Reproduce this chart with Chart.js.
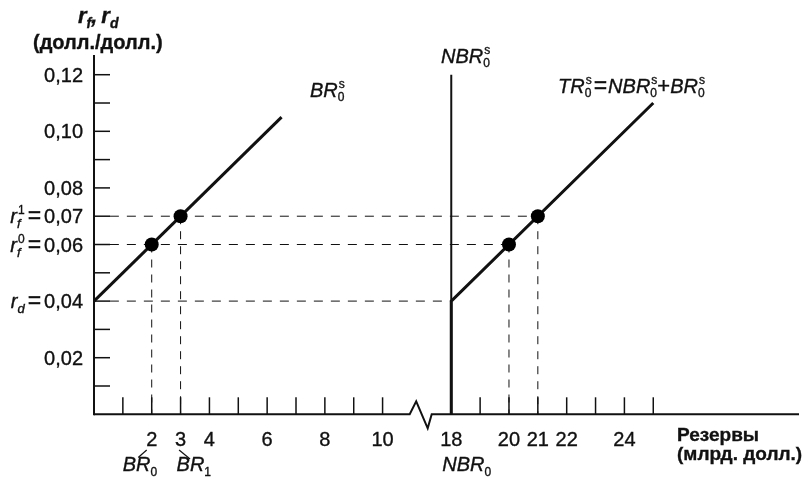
<!DOCTYPE html>
<html>
<head>
<meta charset="utf-8">
<script src="https://cdn.jsdelivr.net/npm/chart.js@4/dist/chart.umd.min.js"></script>
<style>
  html, body { margin: 0; padding: 0; background: #fff; }
  #wrap { width: 806px; height: 485px; }
</style>
</head>
<body>
<div id="wrap"><canvas id="c" width="806" height="485"></canvas></div>
<script>
// ---- data ----
const X_TICKS_LEFT = [1, 2, 3, 4, 5, 6, 7, 8, 9, 10];
const X_TICKS_RIGHT = [18, 19, 20, 21, 22, 23, 24, 25];
const X_LABELS = [2, 3, 4, 6, 8, 10, 18, 20, 21, 22, 24];
const Y_TICKS = [0.01, 0.02, 0.03, 0.04, 0.05, 0.06, 0.07, 0.08, 0.09, 0.10, 0.11, 0.12];
const Y_LABELS = [0.12, 0.10, 0.08, 0.07, 0.06, 0.04, 0.02];

// borrowed-reserves supply BR0s
const BR_SUPPLY_X = [0, 6.5];
const BR_SUPPLY_Y = [0.04, 0.105];
// non-borrowed reserves NBR0s (vertical)
const NBR_SUPPLY_X = [18, 18];
const NBR_SUPPLY_Y = [0, 0.12];
// total reserves supply TR0s = NBR0s + BR0s
const TR_SUPPLY_X = [18, 18, 25];
const TR_SUPPLY_Y = [0, 0.04, 0.11];
// equilibrium points
const EQ_RESERVES = [2, 3, 20, 21];
const EQ_RATES = [0.06, 0.07, 0.06, 0.07];
// horizontal guide levels and where they stop
const GUIDE_RATES = [0.07, 0.06, 0.04];
const GUIDE_RATE_ENDS = [21, 20, 18];

// ---- broken reserves axis: values from 18 on are shifted left ----
const BREAK_FROM = 18;
const BREAK_SHIFT = 5.62;
const brk = v => (v >= BREAK_FROM ? v - BREAK_SHIFT : v);
const BREAK_AT = 10.94;       // where the zig-zag starts on the axis
const GUIDE_START = 0.55;     // horizontal guides start just past the tick marks

const FONT = '"Liberation Sans", Arial, sans-serif';
const NUM = '20px ' + FONT;
const ITAL = 'italic 20px ' + FONT;
const SMALL = '12px ' + FONT;
const SMALL_IT = 'italic 13px ' + FONT;
const EQ = '23px ' + FONT;
const BOLD_T = 'bold 20px ' + FONT;
const BOLD_R = 'bold 19px ' + FONT;
const BOLD_IT = 'italic bold 22px ' + FONT;
const BOLD_IT_SM = 'italic bold 14px ' + FONT;
const INK = '#111';

const fmt = v => v.toFixed(2).replace('.', ',');
const pts = (xs, ys) => xs.map((x, i) => ({ x: brk(x), y: ys[i] }));

function line(data, width, dash) {
  return {
    data, showLine: true, borderColor: INK, borderWidth: width,
    borderDash: dash || [], pointRadius: 0, fill: false, tension: 0,
    borderJoinStyle: 'miter', borderCapStyle: 'butt'
  };
}

const datasets = [];
// equilibrium dots (first = drawn on top)
datasets.push({
  data: pts(EQ_RESERVES, EQ_RATES), showLine: false,
  pointRadius: 7, pointBackgroundColor: '#000', pointBorderWidth: 0
});
datasets.push(line(pts(BR_SUPPLY_X, BR_SUPPLY_Y), 3));
datasets.push(line(pts(TR_SUPPLY_X, TR_SUPPLY_Y), 3));
datasets.push(line(pts(NBR_SUPPLY_X, NBR_SUPPLY_Y), 2));
GUIDE_RATES.forEach((r, i) => {
  datasets.push(line([{ x: GUIDE_START, y: r }, { x: brk(GUIDE_RATE_ENDS[i]), y: r }], 1, [9, 8]));
});
EQ_RESERVES.forEach((v, i) => {
  datasets.push(line([{ x: brk(v), y: EQ_RATES[i] }, { x: brk(v), y: 0 }], 1, [8, 7]));
});

// ---- text helpers: runs with stacked super/subscripts ----
function text(ctx, s, x, y) {
  ctx.fillText(s, x, y);
  ctx.strokeText(s, x, y);
}
function runWidth(ctx, runs) {
  let w = 0;
  for (const r of runs) {
    if (r.gap) { w += r.gap; continue; }
    if (r.t !== undefined) { ctx.font = r.f; w += ctx.measureText(r.t).width; continue; }
    let a = 0, b = 0;
    if (r.sup) { ctx.font = r.supF || SMALL; a = ctx.measureText(r.sup).width + 1; }
    if (r.sub) { ctx.font = r.subF || SMALL; b = ctx.measureText(r.sub).width; }
    w += Math.max(a, b) + (r.dx || 0);
  }
  return w;
}
function drawRuns(ctx, runs, x, y, align) {
  if (align === 'right') x -= runWidth(ctx, runs);
  ctx.textAlign = 'left';
  ctx.textBaseline = 'alphabetic';
  for (const r of runs) {
    if (r.gap) { x += r.gap; continue; }
    if (r.t !== undefined) {
      ctx.font = r.f; text(ctx, r.t, x, y); x += ctx.measureText(r.t).width; continue;
    }
    let a = 0, b = 0;
    const sx = x + (r.dx || 0);
    if (r.sup) { ctx.font = r.supF || SMALL; text(ctx, r.sup, sx + 1, y - (r.up || 8)); a = ctx.measureText(r.sup).width + 1; }
    if (r.sub) { ctx.font = r.subF || SMALL; text(ctx, r.sub, sx, y + (r.down || 4)); b = ctx.measureText(r.sub).width; }
    x = sx + Math.max(a, b);
  }
}

const Y_PREFIX = {
  '0.07': [{ t: 'r', f: ITAL }, { sup: '1', sub: 'f', subF: SMALL_IT, up: 9, down: 5 }, { gap: 3 }, { t: '=', f: EQ }, { gap: 3 }],
  '0.06': [{ t: 'r', f: ITAL }, { sup: '0', sub: 'f', subF: SMALL_IT, up: 9, down: 5 }, { gap: 3 }, { t: '=', f: EQ }, { gap: 3 }],
  '0.04': [{ t: 'r', f: ITAL }, { sub: 'd', subF: SMALL_IT, down: 5 }, { gap: 3 }, { t: '=', f: EQ }, { gap: 3 }]
};

const axesPlugin = {
  id: 'textbookAxes',
  afterDatasetsDraw(chart) {
    const ctx = chart.ctx;
    const xs = chart.scales.x, ys = chart.scales.y;
    const x0 = xs.getPixelForValue(0);
    const yb = ys.getPixelForValue(0);
    const yt = ys.getPixelForValue(ys.max);
    const xr = xs.getPixelForValue(xs.max);
    ctx.save();
    ctx.strokeStyle = INK;
    ctx.fillStyle = INK;
    ctx.lineCap = 'butt';

    // vertical axis
    ctx.lineWidth = 2;
    ctx.beginPath(); ctx.moveTo(x0, yt); ctx.lineTo(x0, yb + 1); ctx.stroke();

    // horizontal axis with zig-zag break
    const bx = xs.getPixelForValue(BREAK_AT);
    ctx.beginPath();
    ctx.moveTo(x0, yb); ctx.lineTo(bx, yb);
    ctx.lineTo(bx + 6.5, yb - 13);
    ctx.lineTo(bx + 18, yb + 14);
    ctx.lineTo(bx + 22, yb);
    ctx.lineTo(xr, yb);
    ctx.stroke();

    // tick marks
    ctx.lineWidth = 1.5;
    Y_TICKS.forEach(v => {
      const p = ys.getPixelForValue(v);
      ctx.beginPath(); ctx.moveTo(x0, p); ctx.lineTo(x0 + 16, p); ctx.stroke();
    });
    X_TICKS_LEFT.concat(X_TICKS_RIGHT).forEach(v => {
      const p = xs.getPixelForValue(brk(v));
      ctx.beginPath(); ctx.moveTo(p, yb); ctx.lineTo(p, yb - 17); ctx.stroke();
    });

    // all text gets a hairline stroke for a slightly heavier print look
    ctx.lineWidth = 0.35;

    // reserves tick labels
    ctx.font = NUM; ctx.textAlign = 'center'; ctx.textBaseline = 'alphabetic';
    X_LABELS.forEach(v => text(ctx, String(v), xs.getPixelForValue(brk(v)), 446));

    // rate tick labels
    Y_LABELS.forEach(v => {
      const p = ys.getPixelForValue(v) + 7;
      const runs = (Y_PREFIX[v.toFixed(2)] || []).concat([{ t: fmt(v), f: NUM }]);
      drawRuns(ctx, runs, 83, p, 'right');
    });

    // axis titles
    drawRuns(ctx, [{ t: 'r', f: BOLD_IT }, { sub: 'f', subF: BOLD_IT_SM, down: 5 }, { t: ',', f: BOLD_IT }, { gap: 4 },
                   { t: 'r', f: BOLD_IT }, { sub: 'd', subF: BOLD_IT_SM, down: 5 }], 78, 23);
    ctx.textAlign = 'left';
    ctx.font = BOLD_T;
    text(ctx, '(долл./долл.)', 33, 49);
    ctx.font = BOLD_R;
    text(ctx, 'Резервы', 677, 441);
    text(ctx, '(млрд. долл.)', 677, 460);

    // names under the reserves axis
    const p2 = xs.getPixelForValue(brk(2));
    const p3 = xs.getPixelForValue(brk(3));
    const p18 = xs.getPixelForValue(brk(18));
    drawRuns(ctx, [{ t: 'BR', f: ITAL }, { sub: '0', down: 5 }], p2 - 29, 471);
    drawRuns(ctx, [{ t: 'BR', f: ITAL }, { sub: '1', down: 5 }], p3 - 4, 471);
    drawRuns(ctx, [{ t: 'NBR', f: ITAL }, { sub: '0', down: 5 }], p18 - 9, 471);
    ctx.lineWidth = 1.2;
    ctx.beginPath(); ctx.moveTo(p2 - 5, 450); ctx.lineTo(p2 - 13.5, 457.5); ctx.stroke();
    ctx.beginPath(); ctx.moveTo(p3 - 1.5, 450); ctx.lineTo(p3 + 9.5, 459); ctx.stroke();
    ctx.lineWidth = 0.35;

    // curve labels
    const s0 = () => ({ sup: 's', sub: '0', up: 9, down: 4 });
    drawRuns(ctx, [{ t: 'BR', f: ITAL }, s0()], 310, 97);
    drawRuns(ctx, [{ t: 'NBR', f: ITAL }, s0()], 441, 63);
    drawRuns(ctx, [{ t: 'TR', f: ITAL }, s0(), { gap: 2 }, { t: '=', f: EQ }, { gap: 1 },
                   { t: 'NBR', f: ITAL }, s0(), { t: '+', f: '22px ' + FONT },
                   { t: 'BR', f: ITAL }, s0()], 558, 93);
    ctx.restore();
  }
};

new Chart(document.getElementById('c'), {
  type: 'scatter',
  data: { datasets },
  options: {
    responsive: false,
    animation: false,
    devicePixelRatio: 1,
    events: [],
    layout: { padding: { left: 94, right: 6, top: 54.9, bottom: 70.7 } },
    plugins: { legend: { display: false }, tooltip: { enabled: false } },
    scales: {
      x: { type: 'linear', display: false, min: 0, max: 24.43 },
      y: { type: 'linear', display: false, min: 0, max: 0.127 }
    }
  },
  plugins: [axesPlugin]
});
</script>
</body>
</html>
